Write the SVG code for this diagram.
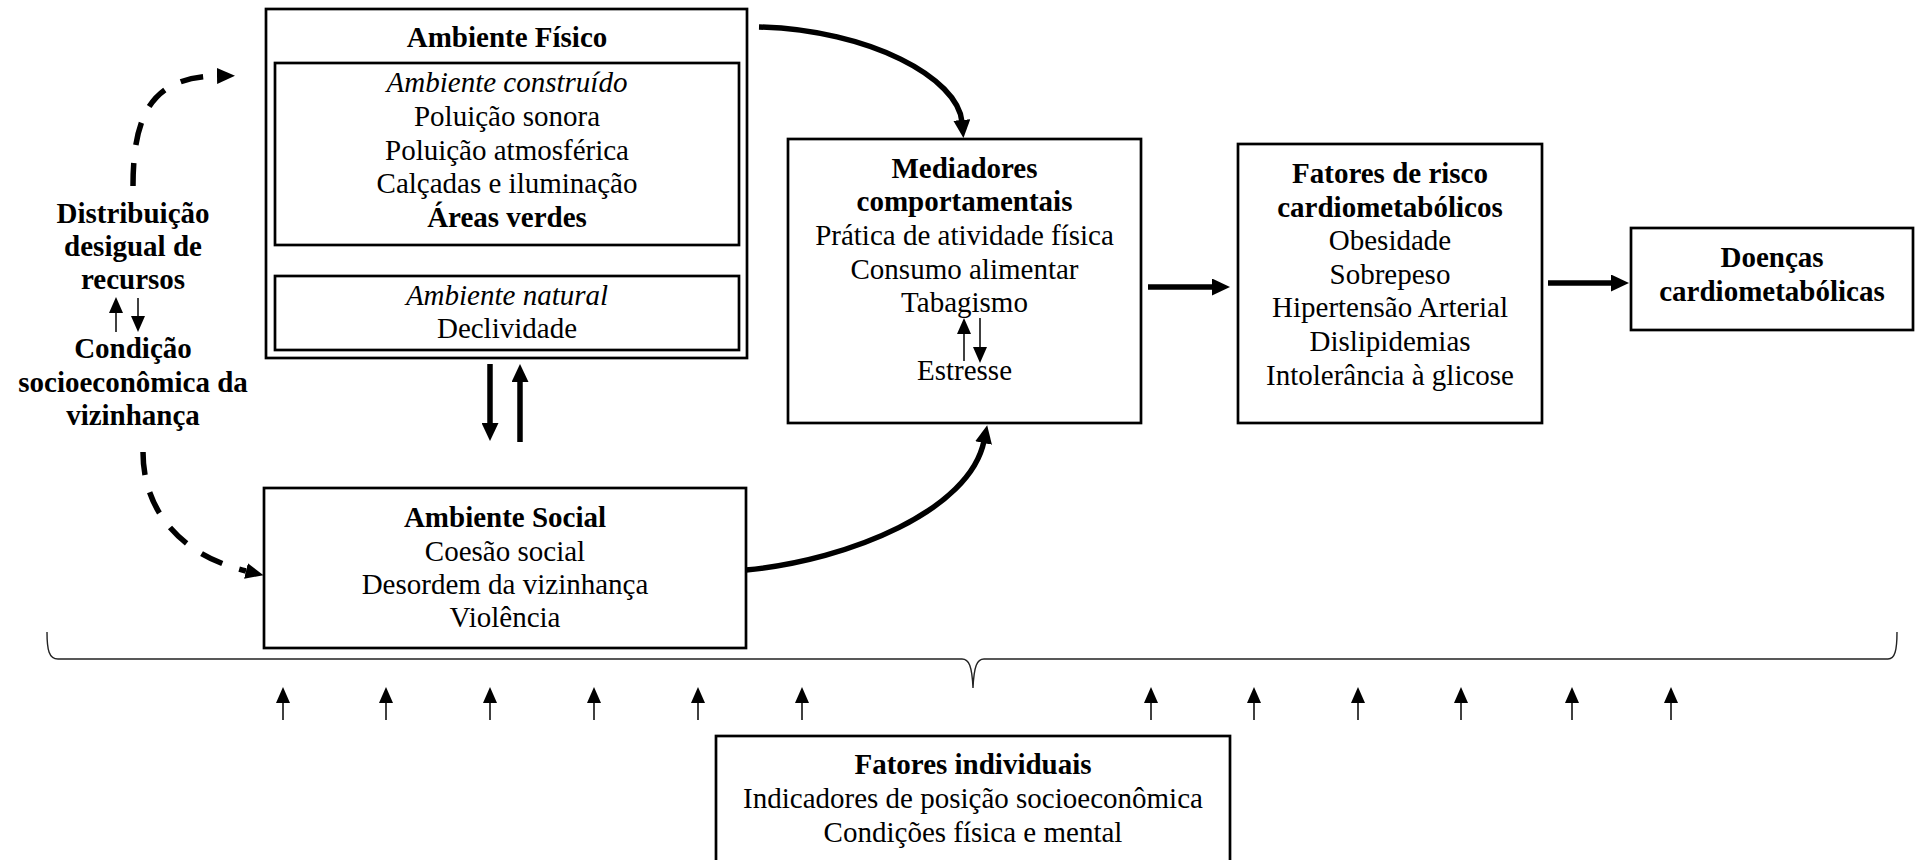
<svg xmlns="http://www.w3.org/2000/svg" width="1922" height="860" viewBox="0 0 1922 860">
<style>
  .box { fill: #fff; stroke: #000; stroke-width: 2.7; }
  .t { font-family: "Liberation Serif", "Times New Roman", serif; font-size: 29px; fill: #000; text-anchor: middle; }
  .b { font-weight: bold; }
  .i { font-style: italic; }
  .thick { fill: none; stroke: #000; stroke-width: 5.5; }
  .thin { fill: none; stroke: #000; stroke-width: 1.5; }
  .dash { fill: none; stroke: #000; stroke-width: 5.5; stroke-dasharray: 23 18; }
  .brace { fill: none; stroke: #222; stroke-width: 1.4; }
</style>
<defs>
  <marker id="big" markerUnits="userSpaceOnUse" markerWidth="18" markerHeight="17" viewBox="0 0 18 17" refX="2" refY="8.5" orient="auto">
    <path d="M0,0 L18,8.5 L0,17 Z" fill="#000"/>
  </marker>
  <marker id="dhead" markerUnits="userSpaceOnUse" markerWidth="18" markerHeight="16" viewBox="0 0 18 16" refX="0" refY="8" orient="auto">
    <path d="M0,0 L18,8 L0,16 Z" fill="#000"/>
  </marker>
  <marker id="small" markerUnits="userSpaceOnUse" markerWidth="16" markerHeight="14" viewBox="0 0 16 14" refX="2" refY="7" orient="auto">
    <path d="M0,0 L16,7 L0,14 Z" fill="#000"/>
  </marker>
</defs>

<g id="ambiente-fisico">
  <rect class="box" x="266" y="9" width="481" height="349"/>
  <text class="t b" x="507" y="47">Ambiente Físico</text>
  <rect class="box" x="275" y="63" width="464" height="182"/>
  <text class="t i" x="507" y="92">Ambiente construído</text>
  <text class="t" x="507" y="126">Poluição sonora</text>
  <text class="t" x="507" y="160">Poluição atmosférica</text>
  <text class="t" x="507" y="193">Calçadas e iluminação</text>
  <text class="t b" x="507" y="227">Áreas verdes</text>
  <rect class="box" x="275" y="276" width="464" height="74"/>
  <text class="t i" x="507" y="305">Ambiente natural</text>
  <text class="t" x="507" y="338">Declividade</text>
</g>

<g id="condicao-socioeconomica">
  <text class="t b" x="133" y="223">Distribuição</text>
  <text class="t b" x="133" y="256">desigual de</text>
  <text class="t b" x="133" y="289">recursos</text>
  <line class="thin" x1="116" y1="332" x2="116" y2="311" marker-end="url(#small)"/>
  <line class="thin" x1="138" y1="298" x2="138" y2="318" marker-end="url(#small)"/>
  <text class="t b" x="133" y="358">Condição</text>
  <text class="t b" x="133" y="392">socioeconômica da</text>
  <text class="t b" x="133" y="425">vizinhança</text>
</g>

<g id="ambiente-social">
  <rect class="box" x="264" y="488" width="482" height="160"/>
  <text class="t b" x="505" y="527">Ambiente Social</text>
  <text class="t" x="505" y="561">Coesão social</text>
  <text class="t" x="505" y="594">Desordem da vizinhança</text>
  <text class="t" x="505" y="627">Violência</text>
</g>

<g id="mediadores">
  <rect class="box" x="788" y="139" width="353" height="284"/>
  <text class="t b" x="964.5" y="178">Mediadores</text>
  <text class="t b" x="964.5" y="211">comportamentais</text>
  <text class="t" x="964.5" y="245">Prática de atividade física</text>
  <text class="t" x="964.5" y="279">Consumo alimentar</text>
  <text class="t" x="964.5" y="312">Tabagismo</text>
  <line class="thin" x1="964" y1="361" x2="964" y2="332" marker-end="url(#small)"/>
  <line class="thin" x1="980" y1="318" x2="980" y2="349" marker-end="url(#small)"/>
  <text class="t" x="964.5" y="380">Estresse</text>
</g>

<g id="fatores-risco">
  <rect class="box" x="1238" y="144" width="304" height="279"/>
  <text class="t b" x="1390" y="183">Fatores de risco</text>
  <text class="t b" x="1390" y="217">cardiometabólicos</text>
  <text class="t" x="1390" y="250">Obesidade</text>
  <text class="t" x="1390" y="284">Sobrepeso</text>
  <text class="t" x="1390" y="317">Hipertensão Arterial</text>
  <text class="t" x="1390" y="351">Dislipidemias</text>
  <text class="t" x="1390" y="385">Intolerância à glicose</text>
</g>

<g id="doencas">
  <rect class="box" x="1631" y="228" width="282" height="102"/>
  <text class="t b" x="1772" y="267">Doenças</text>
  <text class="t b" x="1772" y="301">cardiometabólicas</text>
</g>

<g id="fatores-individuais">
  <rect class="box" x="716" y="736" width="514" height="140"/>
  <text class="t b" x="973" y="774">Fatores individuais</text>
  <text class="t" x="973" y="808">Indicadores de posição socioeconômica</text>
  <text class="t" x="973" y="842">Condições física e mental</text>
</g>

<g id="connectors">
  <path class="dash" d="M133,186 C133,110 155,77 217,76" marker-end="url(#dhead)"/>
  <path class="dash" d="M143,452 C143,510 180,555 246,571" marker-end="url(#dhead)"/>
  <line class="thick" x1="490" y1="364" x2="490" y2="425" marker-end="url(#big)"/>
  <line class="thick" x1="520" y1="442" x2="520" y2="380" marker-end="url(#big)"/>
  <path class="thick" d="M759,27 C870,30 958,78 962,122" marker-end="url(#big)"/>
  <path class="thick" d="M746,570 C850,560 970,510 984,441" marker-end="url(#big)"/>
  <line class="thick" x1="1148" y1="287" x2="1214" y2="287" marker-end="url(#big)"/>
  <line class="thick" x1="1548" y1="283" x2="1613" y2="283" marker-end="url(#big)"/>
  <path class="brace" d="M47,632 C47,650 49,659 58,659 L962,659 C969,659 972,666 973,688 C974,666 977,659 984,659 L1888,659 C1895,659 1897,650 1897,632"/>
  <line class="thin" x1="283" y1="720" x2="283" y2="701" marker-end="url(#small)"/>
  <line class="thin" x1="386" y1="720" x2="386" y2="701" marker-end="url(#small)"/>
  <line class="thin" x1="490" y1="720" x2="490" y2="701" marker-end="url(#small)"/>
  <line class="thin" x1="594" y1="720" x2="594" y2="701" marker-end="url(#small)"/>
  <line class="thin" x1="698" y1="720" x2="698" y2="701" marker-end="url(#small)"/>
  <line class="thin" x1="802" y1="720" x2="802" y2="701" marker-end="url(#small)"/>
  <line class="thin" x1="1151" y1="720" x2="1151" y2="701" marker-end="url(#small)"/>
  <line class="thin" x1="1254" y1="720" x2="1254" y2="701" marker-end="url(#small)"/>
  <line class="thin" x1="1358" y1="720" x2="1358" y2="701" marker-end="url(#small)"/>
  <line class="thin" x1="1461" y1="720" x2="1461" y2="701" marker-end="url(#small)"/>
  <line class="thin" x1="1572" y1="720" x2="1572" y2="701" marker-end="url(#small)"/>
  <line class="thin" x1="1671" y1="720" x2="1671" y2="701" marker-end="url(#small)"/>
</g>
</svg>
